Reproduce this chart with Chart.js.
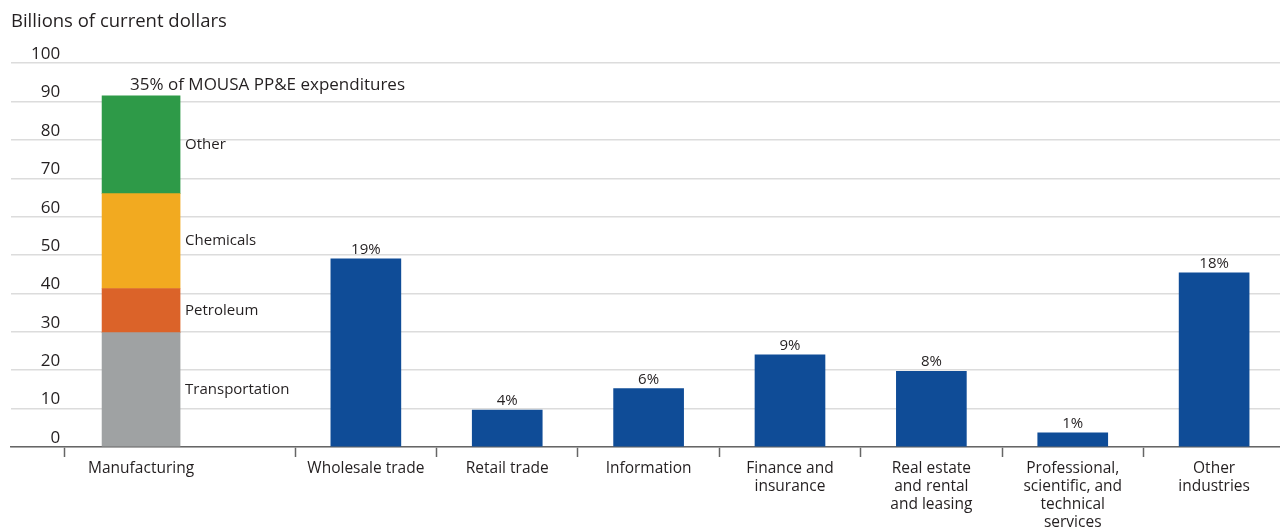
<!DOCTYPE html>
<html>
<head>
  <meta charset="UTF-8">
  <title>PP&amp;E expenditures by industry</title>
  <script src="https://cdn.jsdelivr.net/npm/chart.js"></script>
  <style>
    html, body { margin: 0; padding: 0; background: #fff; }
    #wrap { position: relative; width: 1280px; height: 527px; }
  </style>
</head>
<body>
  <div id="wrap"><canvas id="myChart"></canvas></div>

  <script>
    const industries = [
      ['Manufacturing'],
      ['Wholesale trade'],
      ['Retail trade'],
      ['Information'],
      ['Finance and', 'insurance'],
      ['Real estate', 'and rental', 'and leasing'],
      ['Professional,', 'scientific, and', 'technical', 'services'],
      ['Other', 'industries']
    ];
    // manufacturing broken down by sub-industry
    const mfgSegments = ['Transportation', 'Petroleum', 'Chemicals', 'Other'];
    const mfgValues = [29.8, 11.5, 24.7, 25.5];
    const mfgShare = '35%';
    // remaining industries
    const otherValues = [49.0, 9.6, 15.2, 24.0, 19.7, 3.7, 45.4];
    const otherShares = ['19%', '4%', '6%', '9%', '8%', '1%', '18%'];

    const mfgColors = ['#9fa2a3', '#db6329', '#f2aa20', '#2e9a48'];
    const blue = '#0f4c97';
    const textColor = '#231f20';

    Chart.defaults.font.family = '"Open Sans", sans-serif';
    Chart.defaults.color = textColor;

    // x scale: one unit per industry slot. Manufacturing gets a wider slot
    // and its bar sits to the left so the segment names fit beside it.
    const mfgX = 0.41;
    const xPos = industries.map((_, i) => i === 0 ? mfgX : i + 1);
    const boundaries = [-0.13, 1.5, 2.5, 3.5, 4.5, 5.5, 6.5, 7.5];

    const datasets = mfgSegments.map((name, i) => ({
      label: name,
      data: [{ x: mfgX, y: mfgValues[i] }],
      backgroundColor: mfgColors[i],
      barThickness: 78,
      stack: 'all'
    }));
    datasets.push({
      label: 'Other industries',
      data: otherValues.map((v, i) => ({ x: xPos[i + 1], y: v })),
      backgroundColor: blue,
      barThickness: 70,
      stack: 'all'
    });

    // value labels drawn over the bars
    const barLabels = {
      id: 'barLabels',
      afterDatasetsDraw(chart) {
        const ctx = chart.ctx;
        ctx.save();
        ctx.fillStyle = textColor;

        ctx.font = '15px "Open Sans", sans-serif';
        ctx.textAlign = 'left';
        ctx.textBaseline = 'middle';
        mfgSegments.forEach((name, i) => {
          const el = chart.getDatasetMeta(i).data[0];
          ctx.fillText(name, el.x + el.width / 2 + 5, (el.y + el.base) / 2);
        });

        ctx.textBaseline = 'alphabetic';
        ctx.font = '17px "Open Sans", sans-serif';
        const top = chart.getDatasetMeta(mfgSegments.length - 1).data[0];
        ctx.fillText(mfgShare + ' of MOUSA PP&E expenditures', top.x - 11, top.y - 6);

        ctx.font = '15px "Open Sans", sans-serif';
        ctx.textAlign = 'center';
        chart.getDatasetMeta(mfgSegments.length).data.forEach((el, i) => {
          ctx.fillText(otherShares[i], el.x, el.y - 5);
        });
        ctx.restore();
      }
    };

    new Chart(document.getElementById('myChart'), {
      type: 'bar',
      data: { datasets: datasets },
      options: {
        responsive: true,
        maintainAspectRatio: false,
        animation: false,
        layout: { padding: { left: 11, right: 0, top: 0, bottom: 0 } },
        plugins: {
          legend: { display: false },
          tooltip: { enabled: false },
          title: {
            display: true,
            text: 'Billions of current dollars',
            align: 'start',
            color: textColor,
            font: { size: 18.5, weight: 'normal' },
            padding: { top: 11, bottom: 30 }
          }
        },
        scales: {
          x: {
            type: 'linear',
            min: -0.51,
            max: 8.466,
            stacked: true,
            offset: false,
            afterBuildTicks: s => {
              s.ticks = [...boundaries, ...xPos].sort((a, b) => a - b).map(v => ({ value: v }));
            },
            afterFit: s => { s.height = 80; },
            grid: {
              offset: false,
              drawOnChartArea: false,
              drawTicks: true,
              tickLength: 10,
              tickWidth: 1.5,
              tickColor: c => (c.tick && boundaries.includes(c.tick.value)) ? '#666' : 'rgba(0,0,0,0)'
            },
            border: { display: true, color: '#666', width: 1.5 },
            ticks: {
              autoSkip: false,
              maxRotation: 0,
              padding: 3,
              font: { size: 15.5, lineHeight: 1.16 },
              callback: v => {
                const i = xPos.indexOf(v);
                return i < 0 ? '' : industries[i];
              }
            }
          },
          y: {
            stacked: true,
            min: 0,
            max: 100,
            afterFit: s => { s.width = 0; },
            grid: { color: '#dcdcdc', lineWidth: 1.5, drawTicks: false },
            border: { display: false },
            ticks: {
              stepSize: 10,
              mirror: true,
              crossAlign: 'far',
              padding: 20,
              labelOffset: -9,
              font: { size: 17 }
            }
          }
        }
      },
      plugins: [barLabels]
    });
  </script>
</body>
</html>
